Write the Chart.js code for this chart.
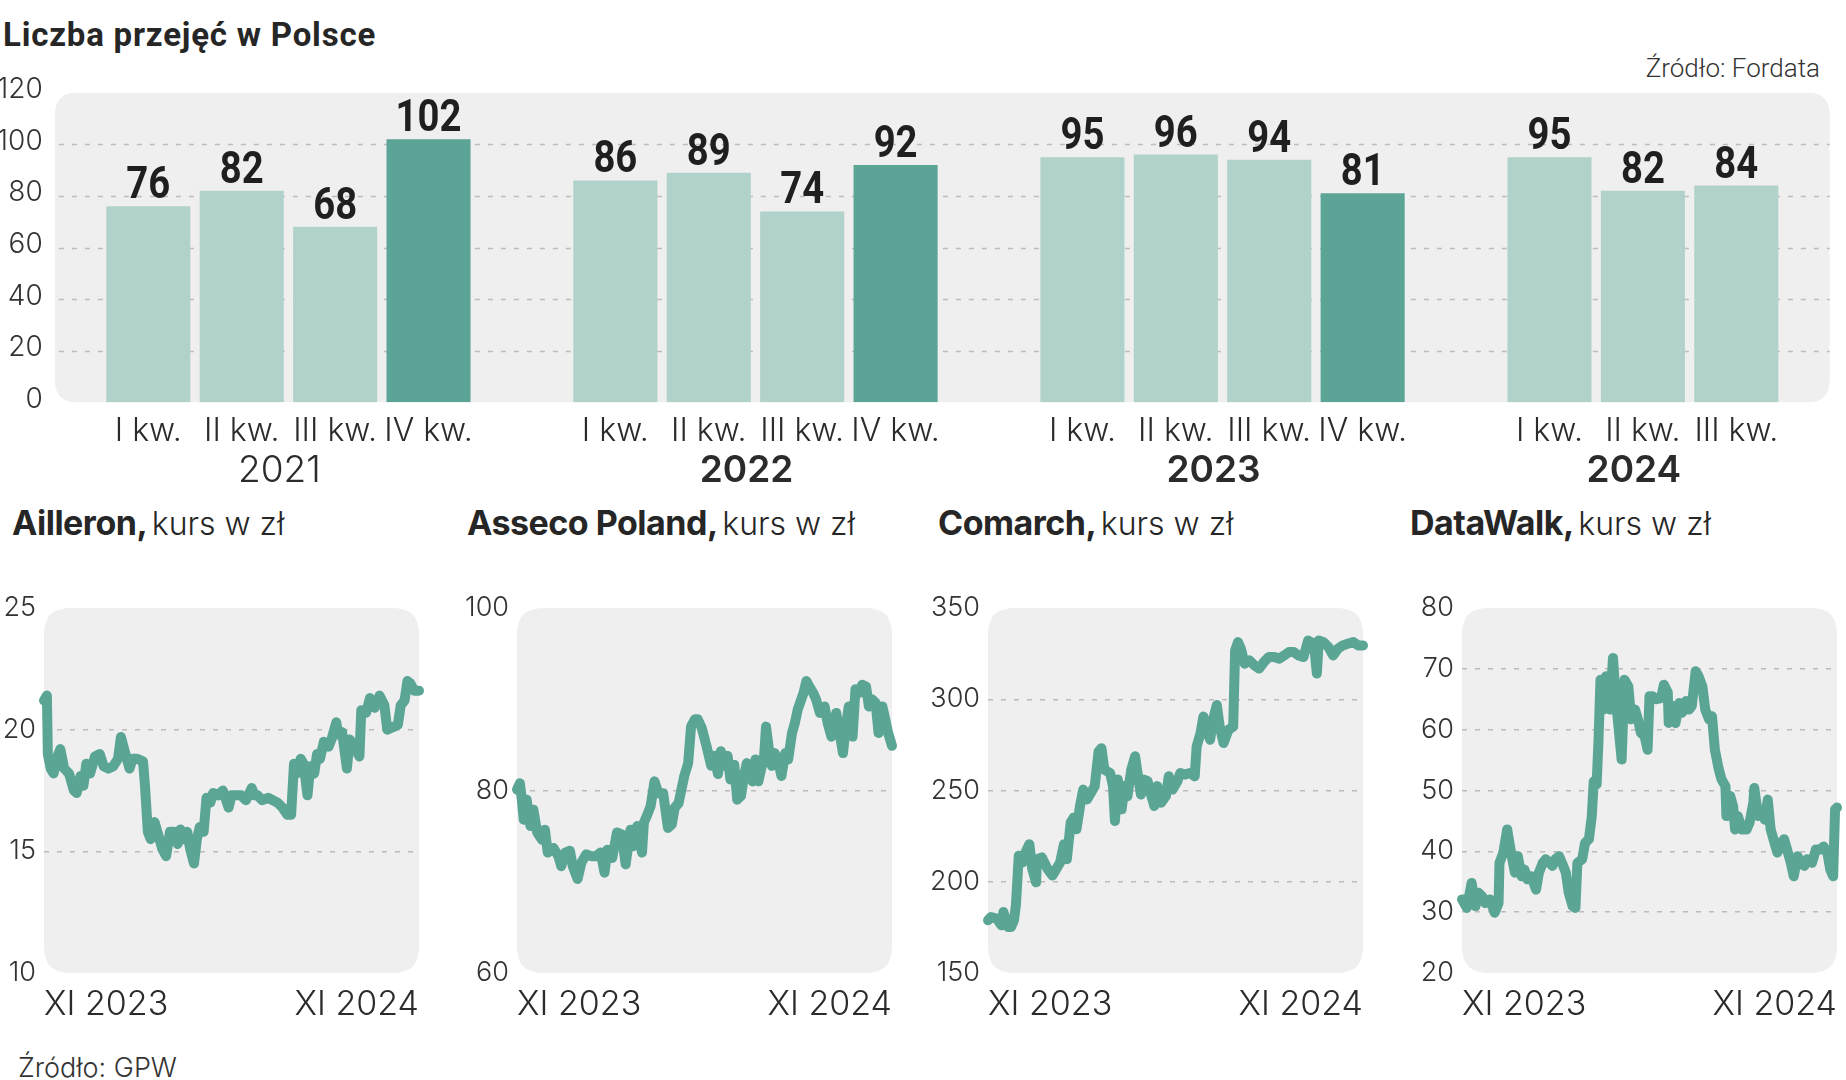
<!DOCTYPE html>
<html lang="pl">
<head>
<meta charset="utf-8">
<title>Liczba przejęć w Polsce</title>
<script src="https://cdn.jsdelivr.net/npm/chart.js@4.4.1/dist/chart.umd.min.js"></script>
<style>
html,body{margin:0;padding:0;background:#fff;}
body{width:1846px;height:1080px;position:relative;overflow:hidden;color:#262626;}
.abs{position:absolute;white-space:nowrap;line-height:1;}
.rob{font-family:Roboto,"Liberation Sans",sans-serif;}
.geo{font-family:Inter,"Open Sans",sans-serif;}
.geo b{font-weight:700;letter-spacing:-0.5px;font-size:34px;}
.geo span{font-weight:300;font-size:32px;}
canvas{position:absolute;}
</style>
</head>
<body>
<div class="abs rob" style="left:3px;top:18px;font-size:33px;font-weight:700;letter-spacing:0.8px;">Liczba przejęć w Polsce</div>
<div class="abs rob" style="right:26px;top:55px;font-size:26px;font-weight:300;color:#333;">Źródło: Fordata</div>

<canvas id="bars" width="1846" height="500" style="left:0;top:0"></canvas>

<div class="abs geo" style="left:12px;top:506px;"><b>Ailleron,</b> <span>kurs w zł</span></div>
<div class="abs geo" style="left:467px;top:506px;"><b>Asseco Poland,</b> <span>kurs w zł</span></div>
<div class="abs geo" style="left:938px;top:506px;"><b>Comarch,</b> <span>kurs w zł</span></div>
<div class="abs geo" style="left:1410px;top:506px;"><b>DataWalk,</b> <span>kurs w zł</span></div>

<canvas id="p1" width="475" height="457" style="left:-36px;top:583px"></canvas>
<canvas id="p2" width="475" height="457" style="left:437px;top:583px"></canvas>
<canvas id="p3" width="475" height="457" style="left:908px;top:583px"></canvas>
<canvas id="p4" width="475" height="457" style="left:1382px;top:583px"></canvas>

<div class="abs geo" style="left:18px;top:1054px;font-size:27px;font-weight:300;color:#333;">Źródło: GPW</div>

<script>
// ---------------- DATA ----------------
const years = ['2021', '2022', '2023', '2024'];
const quarterNames = ['I kw.', 'II kw.', 'III kw.', 'IV kw.'];
const deals2021 = [76, 82, 68, 102];
const deals2022 = [86, 89, 74, 92];
const deals2023 = [95, 96, 94, 81];
const deals2024 = [95, 82, 84];
const dealTicks = [0, 20, 40, 60, 80, 100, 120];

const dateTickLabels = ['XI 2023', 'XI 2024'];
const periodDays = 390; // calendar days from XI 2023 to end of XI 2024

const ailleronDays = [0,3,4,7,10,14,17,21,26,31,34,38,41,44,48,53,58,62,67,72,77,80,84,89,92,97,103,105,108,111,115,118,123,127,131,135,139,142,145,149,152,156,159,162,166,169,173,176,181,186,192,195,200,205,210,216,219,222,227,233,238,243,248,253,257,260,263,267,270,274,277,281,284,287,291,296,299,304,306,310,315,318,323,328,330,335,339,344,349,354,357,363,368,371,375,378,381,385,390];
const ailleronPrice = [21.2,21.4,19.0,18.4,18.2,18.9,19.2,18.4,18.2,17.5,17.4,18.1,17.7,18.6,18.2,18.9,19.0,18.5,18.4,18.5,18.8,19.7,19.1,18.4,18.8,18.8,18.7,17.7,15.8,15.5,16.2,15.8,15.1,14.8,15.8,15.8,15.3,15.9,15.5,15.8,15.1,14.5,15.5,16.0,15.8,17.2,17.0,17.4,17.3,17.5,16.8,17.3,17.3,17.3,17.1,17.6,17.3,17.3,17.1,17.2,17.1,17.0,16.8,16.5,16.5,18.6,18.2,18.8,18.6,17.3,18.5,18.2,19.0,18.8,19.5,19.3,19.6,20.3,19.8,19.9,18.4,19.6,19.3,18.9,20.8,20.7,21.3,20.9,21.4,21.0,20.0,20.1,20.2,21.0,21.2,22.0,21.9,21.6,21.6];
const ailleronTicks = [10, 15, 20, 25];

const assecoDays = [0,3,5,7,10,14,17,21,26,29,32,38,43,46,50,55,58,63,67,72,77,82,87,91,94,99,104,109,113,118,121,125,130,132,135,139,143,147,152,157,161,164,168,171,174,178,181,185,188,192,197,202,205,209,212,215,219,222,226,229,233,236,239,245,248,251,257,259,262,265,268,272,275,279,282,286,289,292,298,301,304,308,311,315,320,323,327,332,335,339,342,345,349,352,356,359,363,366,369,373,376,380,383,386,390];
const assecoPrice = [80.1,80.8,79.0,76.8,79.0,76.1,77.9,75.4,74.6,75.7,73.2,73.7,72.8,71.7,73.2,73.4,71.7,70.3,72.1,73.0,72.8,72.8,73.2,71.0,73.5,72.6,75.4,75.2,71.9,75.7,73.9,76.1,73.2,76.5,77.2,78.3,81.0,79.7,79.7,75.9,76.3,78.1,78.6,80.1,81.6,83.0,87.0,87.8,87.8,86.9,84.9,82.7,83.8,81.8,84.3,82.7,83.8,81.2,82.8,79.0,79.4,81.6,83.0,81.0,83.4,81.0,83.8,87.0,84.5,82.7,84.1,83.0,81.6,84.1,83.4,86.3,87.4,88.9,90.7,92.0,91.4,90.7,90.0,88.5,89.2,87.4,85.9,88.5,86.7,84.1,87.0,89.2,85.9,91.1,90.7,91.6,91.4,89.2,90.0,89.6,86.3,89.2,87.8,86.3,84.9];
const assecoTicks = [60, 80, 100];

const comarchDays = [0,3,9,14,16,21,24,27,29,32,36,39,43,46,50,51,56,62,67,70,75,79,82,86,89,92,96,99,103,108,111,115,118,121,127,130,132,135,139,142,145,149,153,156,159,162,166,169,173,176,180,185,188,192,197,200,205,210,215,217,221,224,227,231,234,238,241,245,250,255,257,260,263,267,272,277,282,287,292,298,303,308,313,318,323,328,333,339,342,344,349,354,359,364,369,374,380,385,390];
const comarchPrice = [178.9,180.7,179.8,176.1,183.4,175.2,175.2,178.9,187.0,214.2,210.6,216.1,220.6,207.0,199.7,212.4,213.3,207.0,203.4,206.1,210.6,220.6,212.4,232.4,235.1,228.8,242.4,250.5,245.1,249.6,252.4,271.4,273.2,261.4,259.6,252.4,233.3,256.0,239.7,252.4,246.9,261.4,268.7,257.8,247.8,256.0,255.1,248.7,241.5,252.4,243.3,246.9,257.8,250.5,255.1,259.6,258.7,259.6,257.8,274.1,281.4,290.5,284.1,277.8,288.7,296.8,285.0,276.0,283.2,285.0,326.8,331.3,327.7,319.5,321.3,318.6,316.8,320.4,323.1,323.1,322.2,324.0,325.9,325.9,324.0,323.1,332.2,330.4,314.1,332.2,331.3,328.6,324.0,327.7,329.5,330.4,331.3,329.5,329.5];
const comarchTicks = [150, 200, 250, 300, 350];

const datawalkDays = [0,5,10,14,17,21,24,29,34,38,39,43,47,51,55,58,62,65,68,72,77,80,84,87,91,94,97,101,104,108,111,115,118,120,125,128,132,135,137,140,142,144,147,150,154,157,160,162,166,169,173,176,180,183,186,190,193,195,198,202,207,210,214,215,219,222,226,229,233,236,239,243,246,250,253,257,260,263,267,270,274,275,279,282,284,287,291,296,299,303,304,308,311,315,318,321,325,328,332,335,339,342,345,349,352,356,359,364,368,373,376,380,383,386,388,390];
const datawalkPrice = [32.1,30.7,34.8,31.0,33.2,32.6,31.5,32.1,29.9,31.5,38.1,39.8,43.6,39.8,36.5,39.2,35.9,37.0,35.4,35.9,33.7,36.5,38.1,38.7,38.1,37.6,38.7,39.2,38.1,36.5,33.2,31.0,30.7,38.1,38.7,41.4,42.0,45.8,51.5,51.0,58.4,68.2,63.3,68.8,63.3,71.8,65.0,61.7,55.1,68.2,67.1,61.7,63.3,61.7,59.5,58.9,56.7,65.5,65.5,65.0,65.2,67.4,66.1,61.1,63.9,61.1,64.4,62.8,64.7,63.3,63.9,69.6,68.8,67.1,63.3,61.7,62.2,56.7,53.5,51.8,50.7,45.8,49.1,47.4,43.6,45.8,43.6,43.6,44.7,48.0,50.4,45.8,46.9,45.2,48.5,43.6,41.4,39.8,41.4,42.0,39.8,38.1,35.9,39.2,38.1,37.6,38.7,38.1,40.3,40.3,40.8,39.8,37.0,35.9,46.9,47.2];
const datawalkTicks = [20, 30, 40, 50, 60, 70, 80];

// ---------------- STYLE ----------------
const ROBOTO = 'Roboto, "Liberation Sans", sans-serif';
const GEO = 'Inter, "Open Sans", sans-serif';
const LIGHT_BAR = '#b0d2ca';
const DARK_BAR = '#5ca596';
const LINE = '#5ba595';
const PANEL_BG = '#efeff0';
const GRID = '#bcbcbc';
const TEXT = '#2b2b2b';

function roundRect(ctx, x, y, w, h, r) {
  ctx.beginPath();
  ctx.moveTo(x + r, y);
  ctx.lineTo(x + w - r, y);
  ctx.quadraticCurveTo(x + w, y, x + w, y + r);
  ctx.lineTo(x + w, y + h - r);
  ctx.quadraticCurveTo(x + w, y + h, x + w - r, y + h);
  ctx.lineTo(x + r, y + h);
  ctx.quadraticCurveTo(x, y + h, x, y + h - r);
  ctx.lineTo(x, y + r);
  ctx.quadraticCurveTo(x, y, x + r, y);
  ctx.closePath();
}

// ---------------- BAR CHART ----------------
const groups = [
  { year: years[0], values: deals2021 },
  { year: years[1], values: deals2022 },
  { year: years[2], values: deals2023 },
  { year: years[3], values: deals2024 }
];
const barLabels = [], barValues = [], yearCenters = [];
groups.forEach((g, gi) => {
  const start = barLabels.length;
  g.values.forEach((v, qi) => { barLabels.push(quarterNames[qi]); barValues.push(v); });
  yearCenters.push(start + (g.values.length - 1) / 2);
  if (gi < groups.length - 1) { barLabels.push(''); barValues.push(null); }
});
const barColors = barLabels.map(l => l === quarterNames[3] ? DARK_BAR : LIGHT_BAR);

const barPanel = {
  id: 'barPanel',
  beforeDraw(chart) {
    const { ctx, chartArea: a, scales: { y } } = chart;
    const slot = (a.right - a.left) / barLabels.length;
    const left = a.left - slot / 2, right = a.right + slot / 2;
    const top = y.getPixelForValue(dealTicks[dealTicks.length - 1]);
    const bottom = y.getPixelForValue(dealTicks[0]);
    ctx.save();
    ctx.fillStyle = PANEL_BG;
    roundRect(ctx, left, top, right - left, bottom - top, 22);
    ctx.fill();
    ctx.restore();
  },
  beforeDatasetsDraw(chart) {
    const { ctx, chartArea: a, scales: { y } } = chart;
    const slot = (a.right - a.left) / barLabels.length;
    const left = a.left - slot / 2, right = a.right + slot / 2;
    ctx.save();
    ctx.strokeStyle = GRID;
    ctx.lineWidth = 1.5;
    ctx.setLineDash([5, 8]);
    dealTicks.slice(1, -1).forEach(v => {
      const py = Math.round(y.getPixelForValue(v)) + 0.5;
      ctx.beginPath(); ctx.moveTo(left + 4, py); ctx.lineTo(right, py); ctx.stroke();
    });
    ctx.restore();
  },
  afterDatasetsDraw(chart) {
    const ctx = chart.ctx;
    const meta = chart.getDatasetMeta(0);
    const data = chart.data.datasets[0].data;
    ctx.save();
    ctx.font = 'bold 44px ' + ROBOTO;
    ctx.fillStyle = '#1f1f1f';
    ctx.textAlign = 'center';
    ctx.textBaseline = 'alphabetic';
    meta.data.forEach((el, i) => {
      if (data[i] == null) return;
      ctx.save();
      ctx.translate(el.x, el.y - 8);
      ctx.scale(0.87, 1);
      ctx.fillText(String(data[i]), 0, 0);
      ctx.restore();
    });
    ctx.restore();
  }
};

new Chart(document.getElementById('bars'), {
  type: 'bar',
  data: {
    labels: barLabels,
    datasets: [{
      data: barValues,
      backgroundColor: barColors,
      borderWidth: 0,
      barPercentage: 0.9,
      categoryPercentage: 1.0
    }]
  },
  options: {
    responsive: false,
    animation: false,
    devicePixelRatio: 1,
    layout: { padding: { left: 0, right: 63, top: 92.7, bottom: 7.7 } },
    plugins: { legend: { display: false }, tooltip: { enabled: false } },
    scales: {
      y: {
        min: 0, max: 120,
        afterFit(s) { s.width = 101.6; },
        afterBuildTicks(s) { s.ticks = dealTicks.map(v => ({ value: v })); },
        grid: { display: false, drawTicks: false },
        border: { display: false },
        ticks: { padding: 58.9, labelOffset: -3, color: '#333', font: { family: GEO, size: 28, weight: 300 } }
      },
      x: {
        weight: 0,
        afterFit(s) { s.height = 45; },
        grid: { display: false, drawTicks: false },
        border: { display: false },
        ticks: { padding: 9.6, autoSkip: false, maxRotation: 0, color: TEXT, font: { family: GEO, size: 32, weight: 300 } }
      },
      x2: {
        type: 'linear',
        position: 'bottom',
        weight: 1,
        offset: false,
        bounds: 'data',
        min: -0.5, max: barLabels.length - 0.5,
        afterFit(s) { s.height = 45; },
        afterBuildTicks(s) { s.ticks = yearCenters.map(v => ({ value: v })); },
        grid: { display: false, drawTicks: false, offset: false },
        border: { display: false },
        ticks: {
          padding: 1, labelOffset: -9, autoSkip: false, maxRotation: 0, color: TEXT,
          callback: (v, i) => years[i],
          font: (c) => ({ family: GEO, size: 37, weight: c.index === 0 ? 300 : 600 })
        }
      }
    }
  },
  plugins: [barPanel]
});

// ---------------- LINE CHARTS ----------------
const linePanel = {
  id: 'linePanel',
  beforeDraw(chart) {
    const { ctx, chartArea: a } = chart;
    ctx.save();
    ctx.fillStyle = PANEL_BG;
    roundRect(ctx, a.left, a.top, a.right - a.left, a.bottom - a.top, 26);
    ctx.fill();
    ctx.restore();
  }
};

function makeLine(id, days, prices, ticks) {
  const yMin = ticks[0], yMax = ticks[ticks.length - 1];
  new Chart(document.getElementById(id), {
    type: 'line',
    data: {
      datasets: [{
        data: days.map((d, i) => ({ x: d, y: prices[i] })),
        borderColor: LINE,
        borderWidth: 10,
        borderJoinStyle: 'round',
        borderCapStyle: 'round',
        pointRadius: 0,
        tension: 0,
        clip: false
      }]
    },
    options: {
      responsive: false,
      animation: false,
      devicePixelRatio: 1,
      layout: { padding: { left: 0, right: 20, top: 25, bottom: 7 } },
      plugins: { legend: { display: false }, tooltip: { enabled: false } },
      scales: {
        x: {
          type: 'linear',
          min: 0, max: periodDays,
          afterFit(s) { s.height = 60; },
          afterBuildTicks(s) { s.ticks = [{ value: 0 }, { value: periodDays }]; },
          grid: { display: false, drawTicks: false },
          border: { display: false },
          ticks: {
            align: 'inner', padding: 11, autoSkip: false, maxRotation: 0,
            color: TEXT, font: { family: GEO, size: 34, weight: 300 },
            callback: (v, i) => dateTickLabels[i]
          }
        },
        y: {
          min: yMin, max: yMax,
          afterFit(s) { s.width = 80; },
          afterBuildTicks(s) { s.ticks = ticks.map(v => ({ value: v })); },
          grid: {
            drawTicks: false,
            lineWidth: 1.5,
            color: (c) => (c.tick && (c.tick.value === yMin || c.tick.value === yMax)) ? 'rgba(0,0,0,0)' : GRID
          },
          border: { display: false, dash: [5, 8] },
          ticks: { padding: 8, color: '#333', font: { family: GEO, size: 27, weight: 300 } }
        }
      }
    },
    plugins: [linePanel]
  });
}

makeLine('p1', ailleronDays, ailleronPrice, ailleronTicks);
makeLine('p2', assecoDays, assecoPrice, assecoTicks);
makeLine('p3', comarchDays, comarchPrice, comarchTicks);
makeLine('p4', datawalkDays, datawalkPrice, datawalkTicks);
</script>
</body>
</html>
